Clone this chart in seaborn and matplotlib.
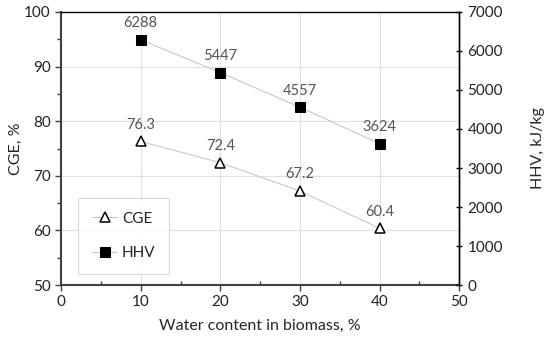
import numpy as np
import matplotlib.pyplot as plt
import seaborn as sns
import pandas as pd
from matplotlib.ticker import MultipleLocator

# datos
water = [10, 20, 30, 40]
cge = [76.3, 72.4, 67.2, 60.4]
hhv = [6288, 5447, 4557, 3624]

df = pd.DataFrame({'water': water, 'CGE': cge, 'HHV': hhv})

sns.set_style('white')
plt.rcParams['font.family'] = ['Lato', 'DejaVu Sans']

fig = plt.figure(figsize=(5.5, 3.41), dpi=100)
ax = fig.add_axes([0.111, 0.164, 0.724, 0.801])
ax2 = ax.twinx()

sns.lineplot(data=df, x='water', y='CGE', ax=ax, color='#c8c8c8', lw=0.8,
             marker='^', markersize=6.5, markerfacecolor='white',
             markeredgecolor='black', markeredgewidth=1.1, label='CGE', legend=False)
sns.lineplot(data=df, x='water', y='HHV', ax=ax2, color='#c8c8c8', lw=0.8,
             marker='s', markersize=6.5, markerfacecolor='black',
             markeredgecolor='black', label='HHV', legend=False)

for x, v in zip(water, cge):
    ax.annotate(f'{v:.1f}', (x, v), xytext=(0, 7), textcoords='offset points',
                ha='center', va='bottom', fontsize=10.5, color='#555555')
for x, v in zip(water, hhv):
    ax2.annotate(f'{v}', (x, v), xytext=(0, 7), textcoords='offset points',
                 ha='center', va='bottom', fontsize=10.5, color='#555555')

ax.set_xlim(0, 50)
ax.set_ylim(50, 100)
ax2.set_ylim(0, 7000)
ax.xaxis.set_major_locator(MultipleLocator(10))
ax.xaxis.set_minor_locator(MultipleLocator(5))
ax.yaxis.set_major_locator(MultipleLocator(10))
ax.yaxis.set_minor_locator(MultipleLocator(5))
ax2.yaxis.set_major_locator(MultipleLocator(1000))

ax.grid(True, which='major', color='#e0e0e0', lw=0.8)
ax.set_axisbelow(True)

for s in ['top', 'right']:
    ax.spines[s].set_color('black')
    ax.spines[s].set_linewidth(1)
ax.spines['left'].set_color('#404040')
ax.spines['left'].set_linewidth(1.5)
ax.spines['bottom'].set_color('#404040')
ax.spines['bottom'].set_linewidth(1.5)
ax2.spines['right'].set_color('black')
ax2.spines['right'].set_linewidth(1)
for s in ['left', 'top', 'bottom']:
    ax2.spines[s].set_visible(False)

ax.tick_params(axis='both', which='major', direction='out', length=4, width=1,
               color='#404040', labelsize=11, labelcolor='#222222', left=True, bottom=True)
ax.tick_params(axis='y', which='minor', direction='out', length=3, width=1,
               color='#404040', left=True)
ax.tick_params(axis='x', which='minor', direction='in', length=3, width=1,
               color='#404040', bottom=True)
ax2.tick_params(axis='y', which='major', direction='inout', length=5, width=1,
                color='black', labelsize=11, labelcolor='#222222', right=True)

ax.set_xlabel('Water content in biomass, %', fontsize=11.5, labelpad=7)
ax.set_ylabel('CGE, %', fontsize=11.5, labelpad=1)
ax2.set_ylabel('HHV, kJ/kg', fontsize=11.5, labelpad=20)

h1, l1 = ax.get_legend_handles_labels()
h2, l2 = ax2.get_legend_handles_labels()
leg = ax.legend(h1 + h2, l1 + l2, loc='lower left', bbox_to_anchor=(0.042, 0.04),
                fontsize=11, frameon=True, fancybox=False, edgecolor='#d0d0d0',
                labelspacing=1.35, borderpad=0.9, handlelength=1.7, handletextpad=0.3,
                borderaxespad=0)
leg.get_frame().set_linewidth(0.8)

plt.savefig('out.png', dpi=100)
